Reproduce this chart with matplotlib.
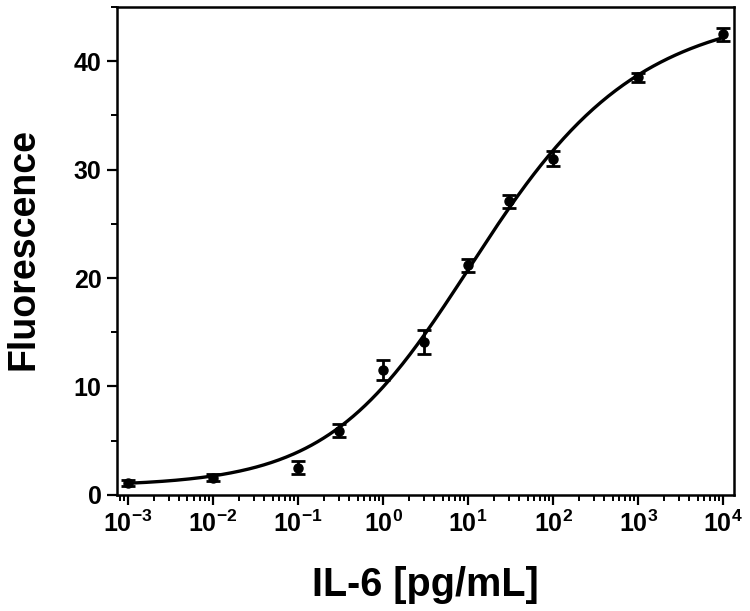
import matplotlib
matplotlib.use("Agg")
import matplotlib.pyplot as plt
import numpy as np
from matplotlib.ticker import FuncFormatter, LogLocator, MultipleLocator

plt.rcParams['font.family'] = ['Liberation Sans', 'DejaVu Sans']
plt.rcParams['font.weight'] = 'bold'
plt.rcParams['mathtext.fontset'] = 'custom'
plt.rcParams['mathtext.rm'] = 'Liberation Sans:bold'
plt.rcParams['mathtext.bf'] = 'Liberation Sans:bold'

# measured points (IL-6 concentration, fluorescence, error)
conc = [1e-3, 1e-2, 1e-1, 0.3, 1, 3, 10, 30, 100, 1000, 10000]
fluor = [1.1, 1.6, 2.5, 5.9, 11.5, 14.1, 21.2, 27.1, 31.0, 38.5, 42.5]
err = [0.3, 0.3, 0.6, 0.6, 0.9, 1.1, 0.6, 0.6, 0.7, 0.4, 0.6]

# 5-parameter logistic fit parameters
fit_bottom = 0.8
fit_top = 45.0
fit_c = 4.65
fit_slope = 0.55
fit_asym = 0.65

def logistic5(x):
    return fit_top + (fit_bottom - fit_top) / (1 + (x / fit_c) ** fit_slope) ** fit_asym

fig = plt.figure(figsize=(7.5, 6.11), dpi=100)
ax = fig.add_axes([0.156, 0.190, 0.823, 0.7985])

xs = np.logspace(-3, 4, 400)
ax.plot(xs, logistic5(xs), color='black', lw=2.4, zorder=2)
ax.errorbar(conc, fluor, yerr=err, fmt='o', color='black', ms=6.5,
            elinewidth=2, capsize=5, capthick=2, zorder=3)

ax.set_xscale('log')
ax.set_xlim(10 ** -3.13, 10 ** 4.13)
ax.set_ylim(0, 45)

ax.xaxis.set_major_locator(LogLocator(base=10, numticks=20))
ax.xaxis.set_minor_locator(LogLocator(base=10, subs=np.arange(2, 10), numticks=20))
ax.xaxis.set_major_formatter(FuncFormatter(lambda v, p: r'$\mathbf{10^{%d}}$' % round(np.log10(v))))
ax.yaxis.set_major_locator(MultipleLocator(10))
ax.yaxis.set_minor_locator(MultipleLocator(5))

for s in ax.spines.values():
    s.set_linewidth(1.8)

ax.tick_params(which='major', direction='out', length=7, width=1.6, labelsize=18, pad=4)
ax.tick_params(which='minor', direction='out', length=4.5, width=1.4)
ax.tick_params(top=False, right=False, which='both')

ax.set_xlabel('IL-6 [pg/mL]', fontsize=28.5, fontweight='bold')
ax.set_ylabel('Fluorescence', fontsize=27, fontweight='bold')
ax.xaxis.set_label_coords(0.5, -0.145)
ax.yaxis.set_label_coords(-0.123, 0.505)

fig.savefig('out.png', dpi=100)
